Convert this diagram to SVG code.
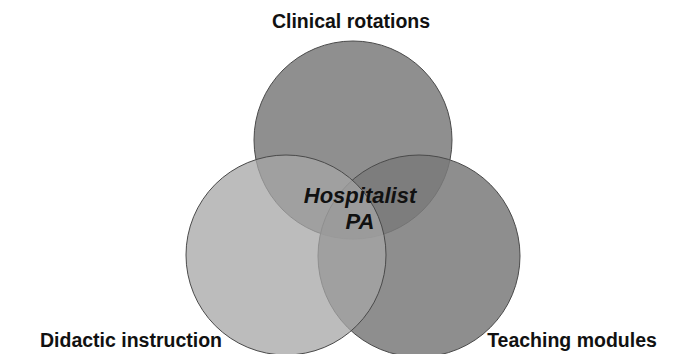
<svg xmlns="http://www.w3.org/2000/svg" width="683" height="354" viewBox="0 0 683 354">
<style>
.c{stroke:#4a4a4a;stroke-width:1}
.lbl{font-family:"Liberation Sans",Arial,sans-serif;font-weight:bold;font-size:19.5px;fill:#111;text-anchor:middle}
.ctr{font-family:"Liberation Sans",Arial,sans-serif;font-weight:bold;font-style:italic;font-size:22px;fill:#111;text-anchor:middle}
</style>
<rect width="683" height="354" fill="#fff"/>
<g id="clinical">
<circle class="c" cx="353" cy="140" r="99" fill="#8f8f8f"/>
<text class="lbl" x="351" y="28">Clinical rotations</text>
</g>
<g id="teaching">
<circle class="c" cx="419" cy="256" r="101" fill="#7a7a7a" fill-opacity="0.85"/>
<text class="lbl" x="572" y="347">Teaching modules</text>
</g>
<g id="didactic">
<circle class="c" cx="286" cy="255" r="100" fill="#a5a5a5" fill-opacity="0.75"/>
<text class="lbl" x="131" y="347">Didactic instruction</text>
</g>
<g id="center">
<text class="ctr" x="360" y="203">Hospitalist</text>
<text class="ctr" x="360" y="229">PA</text>
</g>
<g id="connectors"/>
</svg>
